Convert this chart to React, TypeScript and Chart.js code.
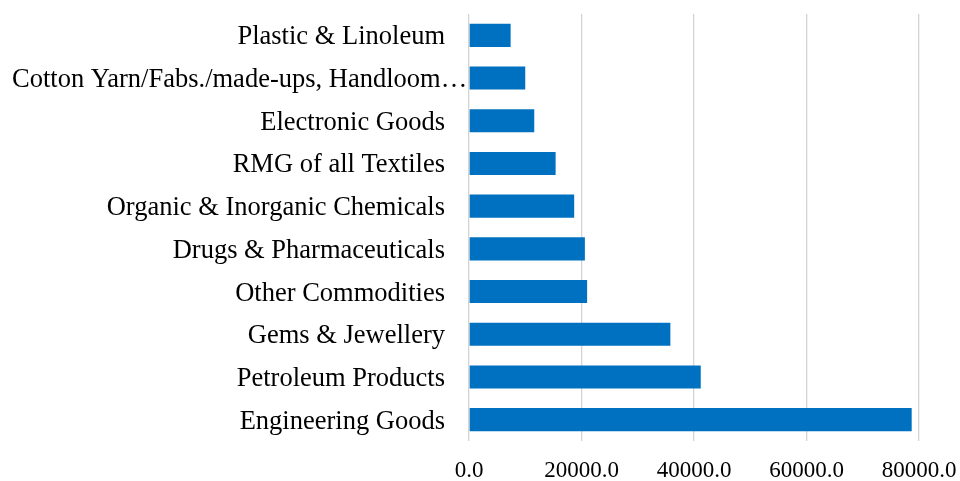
import React, { useEffect, useRef } from "react";
import { Chart, registerables } from "chart.js";

Chart.register(...registerables);

const categories = [
  "Plastic & Linoleum",
  "Cotton Yarn/Fabs./made-ups, Handloom…",
  "Electronic Goods",
  "RMG of all Textiles",
  "Organic & Inorganic Chemicals",
  "Drugs & Pharmaceuticals",
  "Other Commodities",
  "Gems & Jewellery",
  "Petroleum Products",
  "Engineering Goods",
];

const values = [7400, 10000, 11600, 15400, 18700, 20600, 21000, 35800, 41200, 78700];

const xTicks = [0, 20000, 40000, 60000, 80000];

const FONT = '"Liberation Serif", "Times New Roman", serif';

const labelPlugin = {
  id: "catLabels",
  afterDraw(chart: any) {
    const ctx = chart.ctx;
    const y = chart.scales.y;
    const right = chart.chartArea.left - 24;
    ctx.save();
    ctx.font = `26.5px ${FONT}`;
    ctx.fillStyle = "#000000";
    ctx.textBaseline = "middle";
    ctx.textAlign = "left";
    categories.forEach((label, i) => {
      const w = ctx.measureText(label).width;
      const x = Math.max(12, right - w);
      ctx.fillText(label, x, y.getPixelForValue(i) + 2);
    });
    ctx.restore();
  },
};

export default function App() {
  const ref = useRef<HTMLCanvasElement | null>(null);
  useEffect(() => {
    if (!ref.current) return;
    const chart = new Chart(ref.current, {
      type: "bar",
      data: {
        labels: categories,
        datasets: [
          {
            data: values,
            backgroundColor: "#0070c0",
            borderWidth: 0,
            barPercentage: 0.54,
            categoryPercentage: 1,
          },
        ],
      },
      options: {
        indexAxis: "y",
        animation: false,
        responsive: true,
        maintainAspectRatio: false,
        layout: { padding: { top: 14, right: 41, bottom: 0, left: 0 } },
        plugins: { legend: { display: false }, tooltip: { enabled: false } },
        scales: {
          x: {
            min: 0,
            max: 80000,
            afterBuildTicks: (scale: any) => {
              scale.ticks = xTicks.map((v) => ({ value: v }));
            },
            afterFit: (scale: any) => {
              scale.height = 40;
              scale.paddingLeft = 0;
              scale.paddingRight = 0;
            },
            grid: { color: "#d4d4d4", lineWidth: 1.3, drawTicks: false },
            border: { display: false },
            ticks: {
              padding: 16,
              color: "#000000",
              font: { family: FONT, size: 23 },
              callback: (v: any) => Number(v).toFixed(1),
            },
          },
          y: {
            afterFit: (scale: any) => {
              scale.width = 469;
            },
            grid: { display: false },
            border: { display: false },
            ticks: { display: false },
          },
        },
      },
      plugins: [labelPlugin],
    });
    return () => chart.destroy();
  }, []);
  return (
    <div style={{ position: "absolute", left: 0, top: 0, width: 960, height: 481 }}>
      <canvas ref={ref} />
    </div>
  );
}
